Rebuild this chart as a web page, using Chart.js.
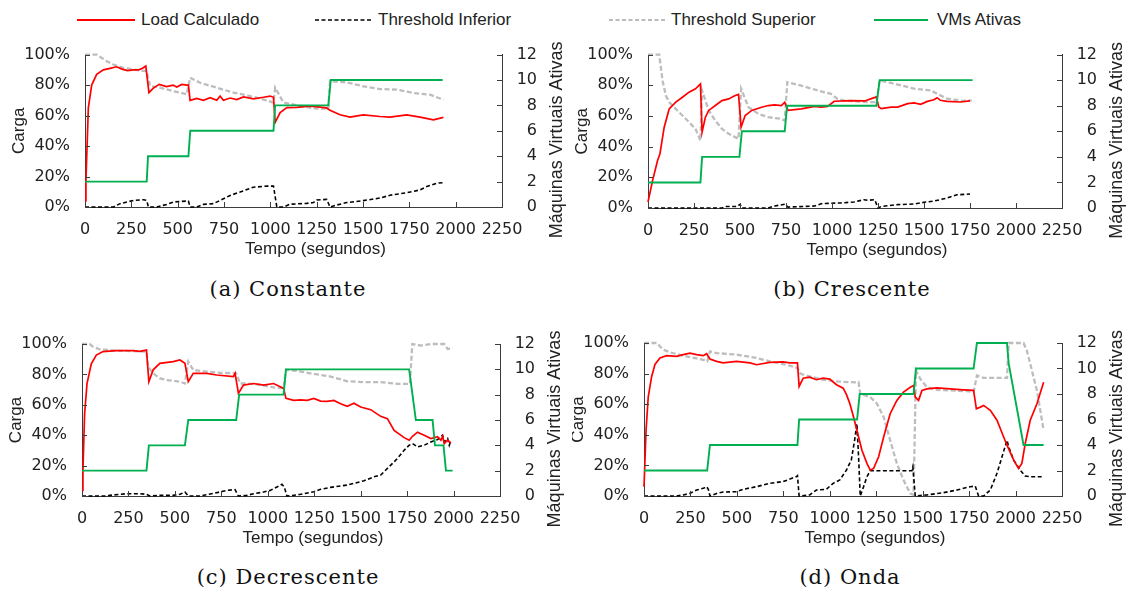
<!DOCTYPE html>
<html><head><meta charset="utf-8">
<script src="https://cdn.jsdelivr.net/npm/chart.js@4.4.1/dist/chart.umd.min.js"></script>
<style>
html,body{margin:0;padding:0;background:#fff;}
body{width:1129px;height:592px;position:relative;overflow:hidden;font-family:"Liberation Sans",Arial,sans-serif;color:#222;}
canvas{position:absolute;}
.lg{position:absolute;top:10px;font-size:17px;line-height:20px;white-space:nowrap;}
.sw{position:absolute;top:15px;}
.cap{position:absolute;font-family:"DejaVu Serif",serif;font-size:21px;line-height:24px;letter-spacing:1px;transform:translateX(-50%);white-space:nowrap;color:#111;}
</style></head>
<body>
<svg class="sw" style="left:77px" width="58" height="10"><line x1="0" y1="5" x2="58" y2="5" stroke="#ff0000" stroke-width="2"/></svg>
<div class="lg" style="left:141px">Load Calculado</div>
<svg class="sw" style="left:315px" width="58" height="10"><line x1="0" y1="5" x2="58" y2="5" stroke="#000" stroke-width="1.6" stroke-dasharray="4 2.5"/></svg>
<div class="lg" style="left:378px">Threshold Inferior</div>
<svg class="sw" style="left:609px" width="58" height="10"><line x1="0" y1="5" x2="58" y2="5" stroke="#a6a6a6" stroke-width="1.6" stroke-dasharray="4 2.5"/></svg>
<div class="lg" style="left:671px">Threshold Superior</div>
<svg class="sw" style="left:874px" width="54" height="10"><line x1="0" y1="5" x2="54" y2="5" stroke="#00b050" stroke-width="2"/></svg>
<div class="lg" style="left:937px">VMs Ativas</div>

<canvas id="cA" width="572" height="240" style="left:0px;top:30px;width:572px;height:240px"></canvas>
<canvas id="cB" width="557" height="240" style="left:572px;top:30px;width:557px;height:240px"></canvas>
<canvas id="cC" width="572" height="240" style="left:0px;top:318px;width:572px;height:240px"></canvas>
<canvas id="cD" width="557" height="240" style="left:572px;top:318px;width:557px;height:240px"></canvas>

<div class="cap" style="left:288px;top:277px">(a) Constante</div>
<div class="cap" style="left:852px;top:277px">(b) Crescente</div>
<div class="cap" style="left:288px;top:565px">(c) Decrescente</div>
<div class="cap" style="left:850px;top:565px">(d) Onda</div>

<script>
// ---------- labels ----------
const seriesNames = ['Load Calculado','Threshold Inferior','Threshold Superior','VMs Ativas'];
const xTitle = 'Tempo (segundos)';
const yTitle = 'Carga';
const y1Title = 'Máquinas Virtuais Ativas';
const xTicks = [0,250,500,750,1000,1250,1500,1750,2000,2250];
const yTicksPct = [0,20,40,60,80,100];
const y1Ticks = [0,2,4,6,8,10,12];

// ---------- (a) Constante : [tempo (s), valor] ----------
const loadA = [[0,4],[5,17],[18,65],[36,80],[63,87],[99,90],[135,91],[170,92],[200,90.5],[230,89.5],[260,90],[290,90],[310,91],[328,92.5],[345,75],[369,78],[400,80.5],[440,79],[475,80],[495,78.7],[522,80.4],[549,80],[558,80],[567,70],[603,71.3],[639,70],[675,71.7],[711,70],[729,72.8],[747,70],[783,71.5],[819,70.5],[855,72.2],[909,71],[963,72],[999,72.8],[1017,72],[1026,55.5],[1053,62],[1089,65.2],[1142,65.4],[1196,66],[1232,66],[1304,65],[1322,63.4],[1376,60.5],[1430,59],[1502,60.5],[1592,59.4],[1646,59],[1736,60.5],[1808,59],[1880,57.2],[1934,58.8]];
const lowA = [[0,0],[153,0],[189,2.2],[261,4.3],[315,4.8],[333,4.3],[342,0],[387,0],[441,1.7],[477,3.3],[549,3.9],[558,3.9],[567,0],[603,0],[639,1.7],[693,2.2],[729,4.3],[783,7.6],[837,9.8],[909,13],[981,13.7],[1017,13.7],[1035,0],[1071,0],[1106,1.8],[1196,2.4],[1232,2.9],[1250,4.6],[1304,5],[1322,0],[1358,1.3],[1412,2.9],[1502,4.2],[1592,5.9],[1646,7.7],[1736,9.4],[1808,11.2],[1844,13.4],[1898,15.6],[1934,16]];
const highA = [[0,100],[63,100],[117,95.7],[153,93.5],[207,91.3],[261,90.2],[333,89.1],[351,79.3],[405,78.3],[477,76],[549,74],[567,84.8],[621,81.5],[711,78.3],[801,75],[891,72.8],[981,70],[1017,68.5],[1026,78.3],[1071,68.5],[1161,66.3],[1250,64.5],[1313,64.5],[1322,82.5],[1412,81.8],[1502,79.2],[1592,77.4],[1682,77],[1772,74.8],[1862,73.7],[1934,70.4]];
const vmsA = [[0,2],[333,2],[340,4],[558,4],[568,6],[1017,6],[1026,8],[1313,8],[1326,10],[1930,10]];

// ---------- (b) Crescente ----------
const loadB = [[0,3.9],[25,18],[52,31],[65,35.4],[88,52.7],[115,64.6],[151,69],[187,72.2],[223,75.5],[258,77.7],[285,80.9],[294,49.5],[312,59.2],[330,63.6],[366,66.8],[402,70],[438,71.1],[474,73.3],[492,74],[506,52.7],[528,60.3],[564,63.6],[617,65.7],[653,66.8],[689,67.2],[725,66.8],[743,69],[761,63.6],[833,64.6],[905,66.2],[941,65.7],[976,66.2],[1012,69.6],[1102,70],[1179,69.8],[1214,71.3],[1241,72.4],[1254,65.9],[1268,64.8],[1321,65.8],[1357,65.8],[1411,68],[1446,68.5],[1482,67.6],[1518,69.5],[1554,70.6],[1571,71.9],[1589,70.2],[1625,69.5],[1697,69.1],[1750,69.8]];
const lowB = [[0,0],[402,0],[420,1],[483,1],[501,2.4],[510,0],[653,0],[689,1.3],[743,2.4],[761,0.6],[905,1.3],[941,2.8],[1048,3.3],[1120,3.9],[1174,5.4],[1196,5],[1232,5.4],[1250,0],[1268,1],[1357,2.2],[1446,2.6],[1500,3.7],[1554,4.5],[1625,6.5],[1679,8.6],[1750,9.1]];
const highB = [[0,100],[61,100],[79,83],[97,73.3],[115,69],[151,64.6],[187,60.3],[223,56],[258,51.6],[285,44],[294,76.6],[330,63.6],[366,57],[402,51.6],[438,48.4],[492,45.1],[506,77.7],[546,65.7],[600,61.4],[653,59.2],[725,58.1],[743,57],[757,82],[833,79.8],[923,76.6],[994,74.4],[1030,71.1],[1066,70],[1192,69],[1241,69],[1259,83.2],[1339,81],[1446,77.8],[1536,76.7],[1589,73.4],[1625,71.3],[1714,69.8],[1759,70.2]];
const vmsB = [[0,2],[285,2],[294,4],[497,4],[510,6],[743,6],[756,8],[1241,8],[1259,10],[1764,10]];

// ---------- (c) Decrescente ----------
const loadC = [[0,3.7],[5,17],[14,54],[27,74],[50,87],[77,92.7],[113,95],[185,95.6],[275,95.6],[311,95.2],[347,96],[360,75.2],[383,83],[419,87.3],[491,88.4],[527,89.5],[554,87.3],[572,75.2],[599,80.7],[671,80.7],[725,79.6],[815,78.5],[824,80.7],[842,67.5],[869,73],[923,74],[977,73],[1031,74],[1067,71.9],[1085,70.8],[1098,64.2],[1140,62.9],[1176,63.3],[1212,62.9],[1248,64.2],[1284,62.4],[1320,62.2],[1356,62.9],[1392,60.7],[1428,59],[1464,61],[1500,58.5],[1554,56.8],[1608,52.4],[1644,50.9],[1680,43.2],[1734,38.4],[1761,36.7],[1779,39.3],[1806,42],[1842,40],[1878,37.8],[1914,39],[1932,36.7],[1941,39.3],[1950,34.5],[1968,36.7],[1986,35]];
const lowC = [[0,0],[131,0],[149,0.4],[239,1.5],[311,1.5],[347,1.1],[365,0],[419,0.4],[491,0.4],[527,1.1],[554,2.6],[572,0],[635,0],[671,0.9],[725,2.2],[779,3.7],[824,4.2],[842,0],[887,0.4],[923,1.5],[977,2.6],[1013,3.7],[1049,5.9],[1076,7.7],[1089,5.9],[1103,0],[1122,0.2],[1176,1.1],[1248,2.8],[1284,4.4],[1338,5.7],[1428,7.2],[1518,10],[1572,12.7],[1608,13.8],[1662,20.3],[1698,24.7],[1734,30.1],[1761,33.4],[1779,34.5],[1806,32.3],[1842,33.4],[1878,35.6],[1914,37.1],[1941,40],[1950,35.6],[1968,37.8],[1977,33.4],[1986,36.7]];
const highC = [[0,100],[41,100],[59,98.2],[95,96.5],[185,95.6],[347,95],[356,85],[383,80.7],[419,77.4],[455,76.3],[527,75.2],[554,74],[572,88.4],[599,82.9],[671,81.8],[743,81],[830,80.7],[851,74],[887,74],[959,73.2],[1031,71.4],[1085,71],[1098,83],[1158,82.3],[1248,80.3],[1338,78.6],[1428,75.5],[1518,74.9],[1608,74.9],[1698,73.8],[1765,73.8],[1778,100],[1824,99],[1878,100],[1950,100],[1968,96.7],[1995,97.4]];
const vmsC = [[0,2],[347,2],[360,4],[554,4],[572,6],[830,6],[846,8],[1085,8],[1098,10],[1761,10],[1797,6],[1887,6],[1900,4],[1946,4],[1959,2],[1995,2]];

// ---------- (d) Onda ----------
const loadD = [[0,6],[11,43],[23,65],[41,78],[59,86],[86,90.2],[122,91.7],[176,91.3],[211,92.4],[247,93.4],[283,92.4],[319,91.7],[337,93],[355,89.5],[391,88],[426,87],[498,88],[570,87],[606,85.8],[677,87.3],[749,87.6],[785,87],[826,87],[835,71.6],[857,77],[892,77.7],[928,76],[964,77],[1000,76.4],[1036,72.7],[1072,70.5],[1090,66.2],[1107,60.7],[1128,51.6],[1146,43],[1173,29.9],[1200,21.3],[1218,16.9],[1236,18],[1263,25.6],[1290,38.6],[1325,53.8],[1361,62.5],[1397,67.9],[1433,71.1],[1451,72.2],[1460,64.6],[1478,62.5],[1496,69],[1523,70],[1577,70.7],[1649,70],[1720,69.4],[1774,69],[1789,57],[1810,58.1],[1828,59.2],[1864,56],[1900,49.5],[1936,38.6],[1954,33.2],[1990,23.4],[2016,18],[2034,21.3],[2052,34.3],[2079,49.5],[2115,60.3],[2151,74.4]];
const lowD = [[0,0],[176,0],[211,0.7],[247,1.7],[283,3.9],[319,5],[337,6.1],[346,4.4],[355,0],[391,1.7],[426,2.6],[498,2.8],[534,4.4],[606,6.1],[677,8.3],[749,9.4],[821,12.7],[826,13.3],[835,0],[892,0.7],[928,3.9],[982,4.4],[1018,8.3],[1054,10.5],[1090,17],[1116,23.6],[1134,36.7],[1146,47.3],[1155,25.6],[1164,0],[1182,6.1],[1200,12.6],[1218,16.5],[1442,16.5],[1447,19.1],[1460,0],[1523,0.7],[1613,2.2],[1684,3.9],[1756,6.1],[1783,6.5],[1801,0],[1828,0],[1864,3.9],[1900,14.8],[1927,25.6],[1954,36.4],[1963,32.1],[1990,23.4],[2025,16.9],[2052,13],[2079,12.6],[2151,12.6]];
const highD = [[0,100],[68,100],[104,95.6],[140,93.9],[211,91.7],[319,89],[340,88],[355,94.5],[391,93.4],[498,92.4],[606,90.2],[677,88],[767,85.8],[826,83.6],[839,80.3],[857,79.3],[964,76],[1036,74.9],[1143,74.2],[1155,74.4],[1164,66.8],[1218,64.6],[1254,60.3],[1290,51.6],[1325,36.4],[1361,21.3],[1397,10.4],[1433,1.7],[1451,0.7],[1464,82],[1487,76.6],[1523,71.1],[1577,69.4],[1649,69],[1738,68.5],[1774,67.9],[1792,78.7],[1828,77.2],[1954,77.2],[1963,100],[2043,100],[2061,95],[2115,69],[2151,43]];
const vmsD = [[0,2],[340,2],[355,4],[826,4],[835,6],[1147,6],[1161,8],[1451,8],[1464,10],[1774,10],[1792,12],[1954,12],[1963,10.4],[2043,4],[2151,4]];

// ---------- drawing ----------
const AXIS = '#3c3c3c';
const TXT = '#222';
const TICKFONT = {family:'DejaVu Sans', size:16};

const innerTicks = {
  id:'innerTicks',
  afterDraw(chart){
    const {ctx, chartArea:a, scales} = chart;
    ctx.save();
    ctx.strokeStyle = AXIS; ctx.lineWidth = 1;
    ctx.beginPath();
    scales.x.ticks.forEach(t=>{const p=Math.round(scales.x.getPixelForValue(t.value))+0.5; ctx.moveTo(p,a.bottom); ctx.lineTo(p,a.bottom-5);});
    scales.y.ticks.forEach(t=>{const p=Math.round(scales.y.getPixelForValue(t.value))+0.5; ctx.moveTo(a.left,p); ctx.lineTo(a.left+5,p);});
    scales.y1.ticks.forEach(t=>{const p=Math.round(scales.y1.getPixelForValue(t.value))+0.5; ctx.moveTo(a.right,p); ctx.lineTo(a.right-5,p);});
    ctx.stroke();
    // axis titles
    ctx.fillStyle = TXT; ctx.textAlign='center'; ctx.textBaseline='middle';
    ctx.font = '17px "Liberation Sans"';
    ctx.fillText(xTitle, (a.left+a.right)/2 + 22, a.bottom + 42);
    ctx.save(); ctx.translate(a.left-66, (a.top+a.bottom)/2); ctx.rotate(-Math.PI/2); ctx.fillText(yTitle,0,0); ctx.restore();
    ctx.font = '18px "Liberation Sans"';
    ctx.save(); ctx.translate(a.right+55, (a.top+a.bottom)/2 + 9); ctx.rotate(-Math.PI/2); ctx.fillText(y1Title,0,0); ctx.restore();
    ctx.restore();
  }
};

function makeChart(id, load, low, high, vms, g){
  const ds = (label, data, color, width, dash, axis, order) => ({
    label, data, borderColor:color, backgroundColor:color, borderWidth:width, borderDash:dash,
    yAxisID:axis, pointRadius:0, tension:0, fill:false, clip:false, order
  });
  new Chart(document.getElementById(id), {
    type:'line',
    data:{datasets:[
      ds(seriesNames[0], load, '#ff0000', 1.7, [], 'y', 2),
      ds(seriesNames[1], low, '#000000', 1.6, [4,2.5], 'y', 3),
      ds(seriesNames[2], high, '#bdbdbd', 2.3, [5,2.5], 'y', 4),
      ds(seriesNames[3], vms, '#00b050', 1.9, [], 'y1', 1)
    ]},
    options:{
      responsive:false, animation:false, devicePixelRatio:1,
      layout:{padding:{top:g.top, right:g.rightPad, left:0, bottom:0}},
      plugins:{legend:{display:false}, tooltip:{enabled:false}},
      scales:{
        x:{type:'linear', min:0, max:2250,
           afterBuildTicks(s){ s.ticks = xTicks.map(v=>({value:v})); },
           afterFit(s){ s.height = g.xH; },
           grid:{display:false, drawTicks:false},
           border:{display:true, color:AXIS, width:1},
           ticks:{font:TICKFONT, color:TXT, padding:g.xPad, autoSkip:false, maxRotation:0, minRotation:0, callback:v=>String(v)}},
        y:{type:'linear', position:'left', min:0, max:100,
           afterBuildTicks(s){ s.ticks = yTicksPct.map(v=>({value:v})); },
           afterFit(s){ s.width = g.leftW; },
           grid:{display:false, drawTicks:false},
           border:{display:true, color:AXIS, width:1},
           ticks:{font:TICKFONT, color:TXT, padding:15, callback:v=>v+'%'}},
        y1:{type:'linear', position:'right', min:0, max:12,
           afterBuildTicks(s){ s.ticks = y1Ticks.map(v=>({value:v})); },
           afterFit(s){ s.width = 35; },
           grid:{display:false, drawTicks:false},
           border:{display:true, color:AXIS, width:1},
           ticks:{font:TICKFONT, color:TXT, padding:0, crossAlign:'far', callback:v=>String(v)}}
      }
    },
    plugins:[innerTicks]
  });
}

makeChart('cA', loadA, lowA, highA, vmsA, {top:23, leftW:85, rightPad:35, xH:63, xPad:13});
makeChart('cB', loadB, lowB, highB, vmsB, {top:24, leftW:76, rightPad:32, xH:62, xPad:13});
makeChart('cC', loadC, lowC, highC, vmsC, {top:26, leftW:82, rightPad:37, xH:62, xPad:13});
makeChart('cD', loadD, lowD, highD, vmsD, {top:25, leftW:72, rightPad:32, xH:62, xPad:13});
</script>
</body></html>
